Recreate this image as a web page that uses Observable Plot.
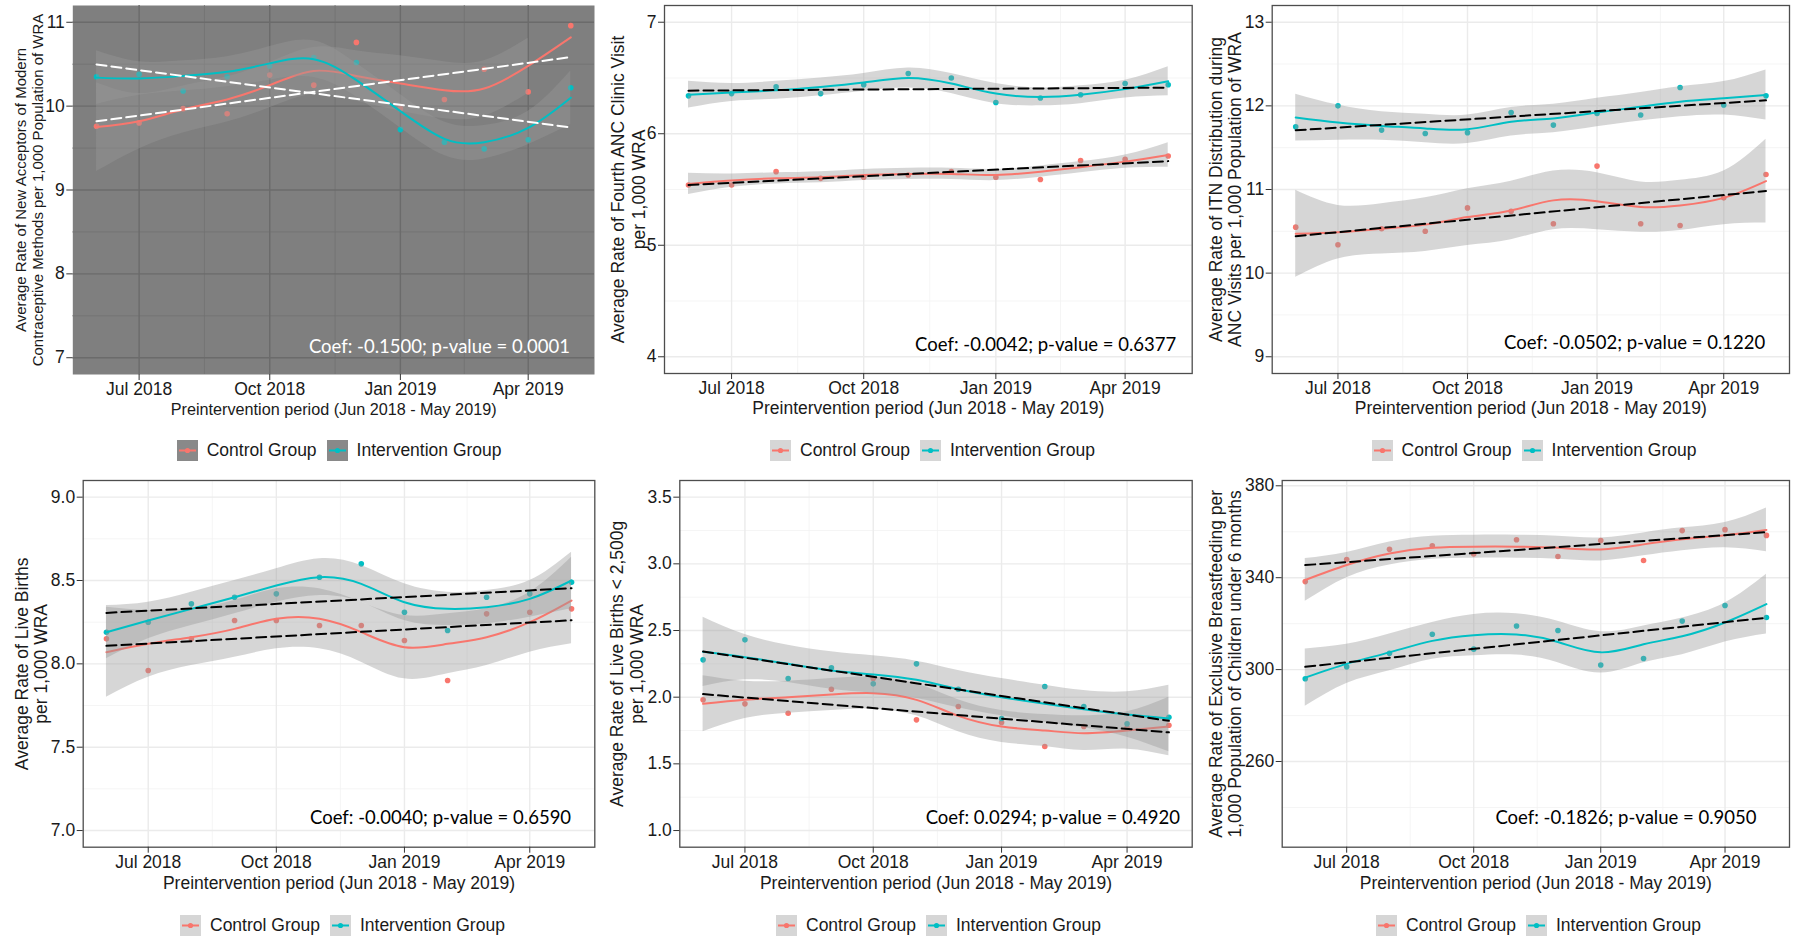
<!DOCTYPE html>
<html>
<head>
<meta charset="utf-8">
<script src="https://cdn.jsdelivr.net/npm/d3@7"></script>
<script src="https://cdn.jsdelivr.net/npm/@observablehq/plot@0.6"></script>
<style>
  html, body { margin: 0; padding: 0; background: #ffffff; }
  body { width: 1796px; height: 939px; position: relative; overflow: hidden;
         font-family: "Liberation Sans", Arial, sans-serif; }
  svg.panel { position: absolute; overflow: visible; }
  .legend { position: absolute; display: flex; align-items: center; height: 22px;
            font-size: 17.5px; color: #1a1a1a; white-space: nowrap; }
  .legend svg { display: block; }
  .legend .lab { margin-left: 9px; margin-right: 10px; }
</style>
</head>
<body>
<script>
// ---------------- data ----------------
const months = ["2018-06-01","2018-07-01","2018-08-01","2018-09-01","2018-10-01","2018-11-01",
                "2018-12-01","2019-01-01","2019-02-01","2019-03-01","2019-04-01","2019-05-01"];
const xTicks = ["2018-07-01","2018-10-01","2019-01-01","2019-04-01"];
const groups = ["Control Group", "Intervention Group"];
const xTitle = "Preintervention period (Jun 2018 - May 2019)";

// Panel 1: new acceptors of modern contraceptive methods
const p1Title = "Average Rate of New Acceptors of Modern\nContraceptive Methods per 1,000 Population of WRA";
const p1Coef = "Coef: -0.1500; p-value = 0.0001";
const p1YTicks = [7, 8, 9, 10, 11];
const p1CtrlPts = [9.76, 9.80, 9.97, 9.91, 10.37, 10.25, 10.76, 9.97, 10.08, 10.44, 10.17, 10.96];
const p1IntvPts = [10.35, 10.38, 10.18, 10.35, 10.48, 10.58, 10.52, 9.72, 9.57, 9.49, 9.60, 10.22];
const p1CtrlFit = [9.75, 9.82, 9.96, 10.08, 10.25, 10.42, 10.36, 10.27, 10.19, 10.21, 10.48, 10.82];
const p1CtrlHw  = [0.53, 0.33, 0.28, 0.27, 0.27, 0.28, 0.30, 0.33, 0.34, 0.33, 0.33, null];
const p1IntvFit = [10.34, 10.33, 10.36, 10.41, 10.51, 10.56, 10.31, 9.94, 9.61, 9.57, 9.74, 10.10];
const p1IntvHw  = [0.32, 0.20, 0.18, 0.18, 0.20, 0.22, 0.20, 0.20, 0.20, 0.20, 0.20, 0.32];

// Panel 2: fourth ANC clinic visit
const p2Title = "Average Rate of Fourth ANC Clinic Visit\nper 1,000 WRA";
const p2Coef = "Coef: -0.0042; p-value = 0.6377";
const p2YTicks = [4, 5, 6, 7];
const p2CtrlPts = [5.54, 5.54, 5.66, 5.60, 5.61, 5.63, 5.66, 5.61, 5.59, 5.76, 5.77, 5.80];
const p2IntvPts = [6.34, 6.36, 6.42, 6.36, 6.44, 6.54, 6.50, 6.28, 6.32, 6.35, 6.45, 6.44];
const p2CtrlFit = [5.55, 5.58, 5.60, 5.61, 5.63, 5.64, 5.64, 5.63, 5.66, 5.70, 5.75, 5.81];
const p2CtrlHw  = [0.095, 0.06, 0.05, 0.05, 0.05, 0.05, 0.05, 0.05, 0.05, 0.05, 0.06, 0.11];
const p2IntvFit = [6.35, 6.37, 6.39, 6.42, 6.46, 6.50, 6.45, 6.36, 6.33, 6.35, 6.40, 6.47];
const p2IntvHw  = [0.12, 0.08, 0.08, 0.08, 0.08, 0.09, 0.09, 0.09, 0.08, 0.08, 0.08, 0.13];

// Panel 3: ITN distribution during ANC visits
const p3Title = "Average Rate of ITN Distribution during\nANC Visits per 1,000 Population of WRA";
const p3Coef = "Coef: -0.0502; p-value = 0.1220";
const p3YTicks = [9, 10, 11, 12, 13];
const p3CtrlPts = [10.55, 10.34, 10.53, 10.50, 10.78, 10.74, 10.59, 11.28, 10.59, 10.57, 10.90, 11.18];
const p3IntvPts = [11.75, 12.00, 11.71, 11.67, 11.68, 11.92, 11.77, 11.91, 11.89, 12.22, 12.01, 12.12];
const p3CtrlFit = [10.47, 10.49, 10.53, 10.58, 10.67, 10.75, 10.87, 10.86, 10.79, 10.81, 10.90, 11.10];
const p3CtrlHw  = [0.52, 0.32, 0.30, 0.32, 0.34, 0.35, 0.35, 0.34, 0.30, 0.30, 0.32, 0.50];
const p3IntvFit = [11.86, 11.80, 11.76, 11.73, 11.72, 11.81, 11.85, 11.92, 11.99, 12.05, 12.09, 12.13];
const p3IntvHw  = [0.28, 0.21, 0.17, 0.17, 0.17, 0.17, 0.17, 0.17, 0.17, 0.18, 0.20, 0.30];

// Panel 4: live births
const p4Title = "Average Rate of Live Births\nper 1,000 WRA";
const p4Coef = "Coef: -0.0040; p-value = 0.6590";
const p4YTicks = [7.0, 7.5, 8.0, 8.5, 9.0];
const p4CtrlPts = [8.15, 7.96, 8.15, 8.26, 8.26, 8.23, 8.23, 8.14, 7.90, 8.30, 8.31, 8.33];
const p4IntvPts = [8.19, 8.25, 8.36, 8.40, 8.42, 8.52, 8.60, 8.31, 8.20, 8.40, 8.42, 8.49];
const p4CtrlFit = [8.07, 8.12, 8.16, 8.21, 8.27, 8.27, 8.19, 8.10, 8.12, 8.16, 8.25, 8.38];
const p4CtrlHw  = [0.27, 0.20, 0.17, 0.17, 0.18, 0.18, 0.18, 0.19, 0.18, 0.17, 0.18, 0.26];
const p4IntvFit = [8.19, 8.26, 8.33, 8.40, 8.47, 8.52, 8.48, 8.37, 8.33, 8.34, 8.39, 8.50];
const p4IntvHw  = [0.16, 0.11, 0.10, 0.10, 0.10, 0.11, 0.11, 0.11, 0.10, 0.10, 0.11, 0.17];

// Panel 5: live births < 2,500g
const p5Title = "Average Rate of Live Births < 2,500g\nper 1,000 WRA";
const p5Coef = "Coef: 0.0294; p-value = 0.4920";
const p5YTicks = [1.0, 1.5, 2.0, 2.5, 3.0, 3.5];
const p5CtrlPts = [1.98, 1.95, 1.88, 2.06, 2.14, 1.83, 1.93, 1.81, 1.63, 1.78, 1.77, 1.79];
const p5IntvPts = [2.28, 2.43, 2.14, 2.22, 2.10, 2.25, 2.06, 1.84, 2.08, 1.93, 1.80, 1.85];
const p5CtrlFit = [1.95, 1.98, 2.00, 2.02, 2.03, 1.98, 1.86, 1.78, 1.75, 1.73, 1.75, 1.78];
const p5CtrlHw  = [0.21, 0.14, 0.12, 0.12, 0.12, 0.12, 0.12, 0.12, 0.12, 0.13, 0.14, 0.22];
const p5IntvFit = [2.34, 2.30, 2.25, 2.20, 2.17, 2.13, 2.06, 2.00, 1.95, 1.91, 1.87, 1.84];
const p5IntvHw  = [0.26, 0.17, 0.14, 0.14, 0.14, 0.14, 0.14, 0.14, 0.14, 0.14, 0.17, 0.25];

// Panel 6: exclusive breastfeeding
const p6Title = "Average Rate of Exclusive Breastfeeding per\n1,000 Population of Children under 6 months";
const p6Coef = "Coef: -0.1826; p-value = 0.9050";
const p6YTicks = [260, 300, 340, 380];
const p6CtrlPts = [338.3, 347.9, 352.4, 353.9, 350.3, 356.5, 349.2, 356.2, 347.5, 360.5, 360.9, 358.4];
const p6IntvPts = [296.0, 301.2, 307.1, 315.4, 308.9, 319.0, 317.0, 302.0, 304.8, 321.1, 327.9, 322.7];
const p6CtrlFit = [339.0, 345.5, 350.5, 353.0, 353.5, 353.5, 353.0, 352.3, 354.5, 356.7, 358.5, 360.8];
const p6CtrlHw  = [9.3, 5.5, 5, 5, 5, 5, 5, 5, 5, 5, 5.5, 9.5];
const p6IntvFit = [296.5, 302.5, 307.5, 312.5, 315.0, 315.3, 312.0, 307.5, 311.0, 314.5, 320.5, 328.5];
const p6IntvHw  = [12.5, 8.5, 8, 8, 9, 9, 9, 9, 8, 8, 8.5, 13];

// ---------------- build ----------------
const RED = "#F8766D", TEAL = "#00BFC4";
const toDate = s => new Date(s + "T00:00:00Z");
const dates = months.map(toDate);
const tickDates = xTicks.map(toDate);
const span = dates[dates.length - 1] - dates[0];
const xDomain = [new Date(+dates[0] - 0.05 * span), new Date(+dates[dates.length - 1] + 0.05 * span)];
const minorX = tickDates.slice(1).map((d, i) => new Date((+d + +tickDates[i]) / 2));

function rows(pts, fit, hw) {
  return dates.map((d, i) => ({
    date: d, y: pts[i], fit: fit[i],
    lo: hw[i] == null ? NaN : fit[i] - hw[i],
    hi: hw[i] == null ? NaN : fit[i] + hw[i]
  }));
}
function minorTicks(t, domain) {
  const step = t[1] - t[0], out = [];
  for (let v = t[0] - step / 2; v <= t[t.length - 1] + step / 2 + 1e-9; v += step)
    if (v > domain[0] && v < domain[1]) out.push(v);
  return out;
}

const panels = [
  {left: 0, top: 0, width: 600, height: 430, ml: 72.3, mr: 6, mt: 5, mb: 56, dark: true,
   yDomain: [6.8, 11.2], yTicks: p1YTicks, fmt: d3.format("d"),
   ctrl: rows(p1CtrlPts, p1CtrlFit, p1CtrlHw), intv: rows(p1IntvPts, p1IntvFit, p1IntvHw),
   title: p1Title, titleDx: -44, titleSize: 15, titleLH: 1.12, xTitleSize: 16.2, xTitleDy: 35,
   coef: p1Coef, coefDx: -24.5, coefDy: -27, legX: 176.7, legY: 450},
  {left: 600, top: 0, width: 596, height: 430, ml: 64, mr: 4.3, mt: 5, mb: 57, dark: false,
   yDomain: [3.85, 7.15], yTicks: p2YTicks, fmt: d3.format("d"),
   ctrl: rows(p2CtrlPts, p2CtrlFit, p2CtrlHw), intv: rows(p2IntvPts, p2IntvFit, p2IntvHw),
   title: p2Title, titleDx: -36.5, titleSize: 17.5, titleLH: 1.2, xTitleSize: 17.5, xTitleDy: 35,
   coef: p2Coef, coefDx: -16, coefDy: -28, legX: 770, legY: 450},
  {left: 1196, top: 0, width: 600, height: 430, ml: 75.7, mr: 7, mt: 5, mb: 57, dark: false,
   yDomain: [8.8, 13.2], yTicks: p3YTicks, fmt: d3.format("d"),
   ctrl: rows(p3CtrlPts, p3CtrlFit, p3CtrlHw), intv: rows(p3IntvPts, p3IntvFit, p3IntvHw),
   title: p3Title, titleDx: -47, titleSize: 17.5, titleLH: 1.12, xTitleSize: 17.5, xTitleDy: 35,
   coef: p3Coef, coefDx: -24.3, coefDy: -30, legX: 1371.6, legY: 450},
  {left: 0, top: 470, width: 600, height: 430, ml: 82.7, mr: 5.7, mt: 10, mb: 53.3, dark: false,
   yDomain: [6.9, 9.1], yTicks: p4YTicks, fmt: d3.format(".1f"),
   ctrl: rows(p4CtrlPts, p4CtrlFit, p4CtrlHw), intv: rows(p4IntvPts, p4IntvFit, p4IntvHw),
   title: p4Title, titleDx: -52, titleSize: 17.5, titleLH: 1.12, xTitleSize: 17.5, xTitleDy: 36,
   coef: p4Coef, coefDx: -23.7, coefDy: -28.7, legX: 180, legY: 925},
  {left: 600, top: 470, width: 596, height: 430, ml: 79.3, mr: 4.3, mt: 10, mb: 53.3, dark: false,
   yDomain: [0.875, 3.625], yTicks: p5YTicks, fmt: d3.format(".1f"),
   ctrl: rows(p5CtrlPts, p5CtrlFit, p5CtrlHw), intv: rows(p5IntvPts, p5IntvFit, p5IntvHw),
   title: p5Title, titleDx: -53, titleSize: 17.5, titleLH: 1.12, xTitleSize: 17.5, xTitleDy: 36,
   coef: p5Coef, coefDx: -12.3, coefDy: -28.7, legX: 776, legY: 925},
  {left: 1196, top: 470, width: 600, height: 430, ml: 85.7, mr: 7, mt: 10, mb: 53.3, dark: false,
   yDomain: [222.7, 382.3], yTicks: p6YTicks, fmt: d3.format("d"),
   ctrl: rows(p6CtrlPts, p6CtrlFit, p6CtrlHw), intv: rows(p6IntvPts, p6IntvFit, p6IntvHw),
   title: p6Title, titleDx: -57, titleSize: 17.5, titleLH: 1.12, xTitleSize: 17.5, xTitleDy: 36,
   coef: p6Coef, coefDx: -33, coefDy: -28.7, legX: 1376, legY: 925}
];

function makePanel(p) {
  const gridMajor = p.dark ? "#6b6b6b" : "#ebebeb";
  const gridMinor = p.dark ? "#717171" : "#f3f3f3";
  const ink = p.dark ? "#ffffff" : "#000000";
  const bandFill = "#999999";
  const svg = Plot.plot({
    width: p.width, height: p.height,
    marginLeft: p.ml, marginRight: p.mr, marginTop: p.mt, marginBottom: p.mb,
    x: {type: "utc", domain: xDomain},
    y: {domain: p.yDomain},
    style: {fontFamily: "'Liberation Sans', Arial, sans-serif", color: "#1a1a1a",
            background: "transparent", overflow: "visible"},
    marks: [
      p.dark ? Plot.frame({fill: "#7f7f7f", stroke: null}) : null,
      Plot.gridX(minorX, {stroke: gridMinor, strokeOpacity: 1, strokeWidth: 0.8}),
      Plot.gridY(minorTicks(p.yTicks, p.yDomain), {stroke: gridMinor, strokeOpacity: 1, strokeWidth: 0.8}),
      Plot.gridX(tickDates, {stroke: gridMajor, strokeOpacity: 1, strokeWidth: 1.4}),
      Plot.gridY(p.yTicks, {stroke: gridMajor, strokeOpacity: 1, strokeWidth: 1.4}),
      Plot.dot(p.ctrl, {x: "date", y: "y", r: 2.8, fill: RED, stroke: null}),
      Plot.dot(p.intv, {x: "date", y: "y", r: 2.8, fill: TEAL, stroke: null}),
      Plot.areaY(p.ctrl, {x: "date", y1: "lo", y2: "hi", fill: bandFill, fillOpacity: 0.4, curve: "natural"}),
      Plot.lineY(p.ctrl, {x: "date", y: "fit", stroke: RED, strokeWidth: 2, curve: "natural"}),
      Plot.areaY(p.intv, {x: "date", y1: "lo", y2: "hi", fill: bandFill, fillOpacity: 0.4, curve: "natural"}),
      Plot.lineY(p.intv, {x: "date", y: "fit", stroke: TEAL, strokeWidth: 2, curve: "natural"}),
      Plot.linearRegressionY(p.ctrl, {x: "date", y: "y", ci: 0, stroke: ink, strokeWidth: 2, strokeDasharray: "10,5"}),
      Plot.linearRegressionY(p.intv, {x: "date", y: "y", ci: 0, stroke: ink, strokeWidth: 2, strokeDasharray: "10,5"}),
      p.dark ? null : Plot.frame({stroke: "#4d4d4d", strokeWidth: 1.3}),
      Plot.axisX(tickDates, {tickFormat: d3.utcFormat("%b %Y"), tickSize: 6, tickPadding: 2,
                             fontSize: 17.5, label: null, stroke: "#333333"}),
      Plot.axisY(p.yTicks, {tickFormat: p.fmt, tickSize: 6, tickPadding: 2,
                            fontSize: 17.5, label: null, stroke: "#333333"}),
      Plot.text([xTitle], {frameAnchor: "bottom", dy: p.xTitleDy, lineAnchor: "middle",
                           fontSize: p.xTitleSize, fill: "#1a1a1a"}),
      Plot.text([p.title], {frameAnchor: "left", rotate: -90, dx: p.titleDx, lineAnchor: "middle",
                            textAnchor: "middle", lineHeight: p.titleLH, fontSize: p.titleSize, fill: "#1a1a1a"}),
      Plot.text([p.coef], {frameAnchor: "bottom-right", dx: p.coefDx, dy: p.coefDy, textAnchor: "end",
                           lineAnchor: "middle", fontFamily: "Lato, 'Open Sans', sans-serif",
                           fontSize: 18.5, fill: ink})
    ]
  });
  svg.classList.add("panel");
  svg.style.left = p.left + "px";
  svg.style.top = p.top + "px";
  document.body.appendChild(svg);
}

function makeLegend(p) {
  const div = document.createElement("div");
  div.className = "legend";
  div.style.left = p.legX + "px";
  div.style.top = (p.legY - 11) + "px";
  const keyFill = p.dark ? "#898989" : "#d6d6d6";
  [RED, TEAL].forEach((c, i) => {
    const ns = "http://www.w3.org/2000/svg";
    const k = document.createElementNS(ns, "svg");
    k.setAttribute("width", 21); k.setAttribute("height", 21);
    k.innerHTML = `<rect x="0" y="0" width="21" height="21" fill="${keyFill}"/>` +
      `<line x1="2" x2="19" y1="10.5" y2="10.5" stroke="${c}" stroke-width="2"/>` +
      `<circle cx="10.5" cy="10.5" r="2.6" fill="${c}"/>`;
    div.appendChild(k);
    const s = document.createElement("span");
    s.className = "lab";
    s.textContent = groups[i];
    div.appendChild(s);
  });
  document.body.appendChild(div);
}

panels.forEach(p => { makePanel(p); makeLegend(p); });
</script>
</body>
</html>
